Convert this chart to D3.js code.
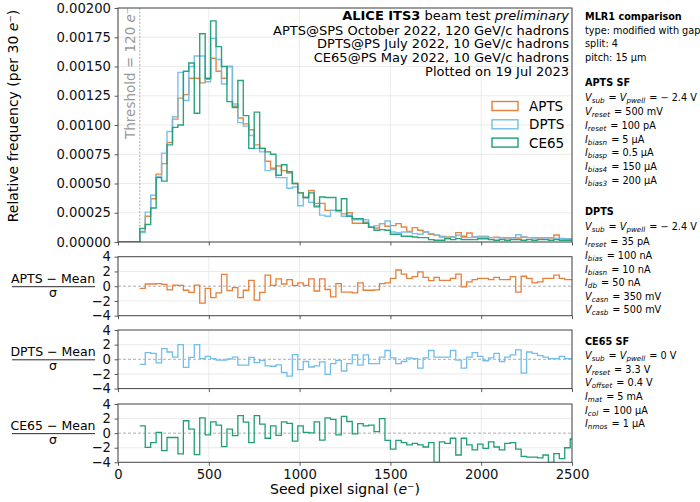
<!DOCTYPE html>
<html>
<head>
<meta charset="utf-8">
<script src="https://cdn.jsdelivr.net/npm/d3@7"></script>
<style>
  body { margin: 0; background: #fff; }
  svg text { font-family: "DejaVu Sans", sans-serif; }
</style>
</head>
<body>
<svg id="chart" width="700" height="502"></svg>
<script>
// histogram bins are 30 e- wide, edges start at 0
const binWidth = 30;
const firstResidualBin = 120;

// relative frequency, in units of 1e-5 (first four bins are below threshold)
const aptsFreq = [0, 0, 0, 0,
  9, 22, 37, 58, 67, 85, 105, 123, 126, 140,
  140, 136, 139, 157, 146, 140, 150, 116, 106, 101,
  96, 83, 80, 69, 63, 65, 61, 59, 50, 42,
  38, 44, 33, 33, 27, 27, 27, 24, 25, 16,
  16, 17, 13, 12, 15.7, 13.4, 14, 15.7, 12.8, 9,
  12.3, 10, 8.6, 6.6, 5.8, 4.3, 4.3, 4.3, 8, 4.9,
  7.7, 4.3, 4.3, 4.3, 3.7, 4, 3.7, 3.4, 3.7, 3.4,
  4.3, 3.7, 3.7, 3.4, 3.7, 3.4, 6, 3.1, 2.8, 2.5];
const dptsFreq = [0, 0, 0, 0,
  8, 25.5, 40, 56, 76, 94.5, 107, 145, 121, 150,
  159, 159, 137, 174, 156, 135, 150, 118, 102, 99,
  91, 80, 77, 61, 62, 55, 55, 46, 47, 31,
  38, 34, 31, 23, 22, 27, 26, 22, 23, 19,
  19, 19, 13, 14, 15.7, 18, 8.6, 8, 8.6, 8.6,
  7.2, 6.6, 8.6, 7.2, 5.8, 4.9, 2.9, 4.3, 5.8, 3.7,
  3.7, 4.3, 5, 5, 3.7, 3.7, 3.4, 3.7, 3.4, 6.2,
  4.3, 3.7, 3.4, 3.7, 3.4, 3.7, 3.1, 2.8, 2.8, 2.5];
const ce65Freq = [0, 0, 0, 0,
  11.5, 15, 29, 55, 52, 83, 98, 100, 146, 153,
  110, 178, 140, 189, 167, 150, 120, 115, 138, 108,
  80, 111, 80, 77, 75, 57, 66, 60, 50, 42,
  38, 42, 30, 38.5, 38, 38, 27, 37, 22, 20,
  20, 16, 12.5, 10, 10.6, 10, 6.6, 6.6, 4.9, 4.9,
  4.3, 3.7, 3.7, 2, 1.5, 1.5, 2.9, 2, 2.9, 2,
  2, 2, 2.8, 2.8, 2, 1.5, 2, 1.5, 2, 2,
  1.5, 2, 1.5, 2, 2, 1.5, 2, 1.5, 1.5, 1.5];

// (X - Mean) / sigma, bins from 120 e-
const aptsRes = [-0.3, 0.3, 0.3, 0.35, 0.25, -0.5, 0.15, 0.1, -0.55, -0.85,
  0.15, -2.3, -0.3, -1.55, -0.9, 1.6, -0.6, -0.2, -1.55, -0.55,
  0.8, -1.9, -0.85, 1.5, 0.1, 1.0, 0.3, 0.9, 0.1, 0.45,
  0.1, 1.0, -0.65, 1.0, -0.45, -1.45, 0.35, -0.8, -0.8, -0.9,
  0.45, -0.55, -0.55, -0.5, 0.35, 0.45, 1.05, 2.2, 1.65, 1.05,
  1.3, 1.95, 1.2, 0.75, 1.2, 0.8, 0.8, 1.05, 1.65, -0.1,
  0.6, 0.9, 1.05, 1.05, 0.9, 1.2, 0.9, 0.9, 1.3, -0.8,
  1.35, 1.05, 0.45, 0.6, 1.05, 1.05, 1.5, 1.05, 0.9, 0.9];
const dptsRes = [-0.7, 0.9, 0.8, -0.5, 1.45, 1.0, 0.3, 2.0, -1.1, 0.25,
  2.0, 0.1, 0.4, 0.1, -0.1, -0.1, 0.05, 0.3, -0.8, -0.8,
  0.25, -0.45, -0.15, -0.9, -0.95, -0.75, -1.8, -2.3, 0.65, -1.4,
  -0.3, -1.05, -0.9, -0.35, -2.05, -0.6, -0.15, -1.6, -0.6, 0.6,
  -0.8, 0.6, -0.6, -0.6, 0.3, 1.2, 0.2, -0.6, -0.3, 0.2,
  0.1, -1.2, 0.2, 1.2, 0.3, 0.3, 0.3, 1.2, -0.1, -1.2,
  0.3, 0.9, 0.4, -0.2, 0.2, 0.8, -0.3, 0.3, 0.6, 1.3,
  -1.9, 1.0, 0.8, 0.5, 0.3, 0.1, 0.1, 0.4, 0.1, 0.1];
const ce65Res = [1.0, -1.95, -1.3, 0.1, -2.4, -0.6, -0.6, -2.85, 1.7, 0.55,
  -2.95, 2.1, -0.25, 1.55, 1.1, -1.85, 0.55, -0.35, 2.4, 1.5,
  -1.3, 2.4, 1.25, -0.7, 1.0, -0.3, 1.55, 1.35, -1.1, 1.0,
  0.1, 0.05, 1.55, -0.95, 2.1, 1.9, -0.25, 2.3, 1.6, -0.1,
  1.3, 1.0, 1.1, 0.2, 2.0, -1.0, -2.2, -1.0, -1.3, -1.6,
  -1.4, -1.6, -1.9, -1.3, -4.0, -1.2, -1.4, -0.7, -3.0, -0.7,
  -1.6, -2.3, -1.5, -2.1, -1.2, -1.9, -2.3, -1.4, -1.3, -2.2,
  -3.2, -3.3, -3.3, -3.4, -3.0, -4.0, -2.8, -3.5, -2.0, -0.8];

const xTicks = [0, 500, 1000, 1500, 2000, 2500];
const yTicksMain = [0, 0.00025, 0.0005, 0.00075, 0.001, 0.00125, 0.0015, 0.00175, 0.002];
const yTicksRes = [-4, -2, 0, 2, 4];

const headerLines = [
  "APTS@SPS October 2022, 120 GeV/c hadrons",
  "DPTS@PS July 2022, 10 GeV/c hadrons",
  "CE65@PS May 2022, 10 GeV/c hadrons",
  "Plotted on 19 Jul 2023"
];
const sideBlocks = [
  { title: "MLR1 comparison", lines: ["type: modified with gap", "split: 4", "pitch: 15 µm"],
    y: [16, 30, 43.5, 57] },
  { title: "APTS SF", lines: ["V_{sub} = V_{pwell} = − 2.4 V", "V_{reset} = 500 mV", "I_{reset} = 100 pA",
      "I_{biasn} = 5 µA", "I_{biasp} = 0.5 µA", "I_{bias4} = 150 µA", "I_{bias3} = 200 µA"],
    y: [82.5, 97, 111.5, 125.5, 139, 152.5, 166, 180] },
  { title: "DPTS", lines: ["V_{sub} = V_{pwell} = − 2.4 V", "I_{reset} = 35 pA", "I_{bias} = 100 nA",
      "I_{biasn} = 10 nA", "I_{db} = 50 nA", "V_{casn} = 350 mV", "V_{casb} = 500 mV"],
    y: [211, 226, 241, 255, 269, 282.5, 296, 309.5] },
  { title: "CE65 SF", lines: ["V_{sub} = V_{pwell} = 0 V", "V_{reset} = 3.3 V", "V_{offset} = 0.4 V",
      "I_{mat} = 5 mA", "I_{col} = 100 µA", "I_{nmos} = 1 µA"],
    y: [341.5, 355.5, 369, 382, 396, 410, 423] }
];

const series = [
  { name: "APTS", color: "#e57f3a", freq: aptsFreq, res: aptsRes },
  { name: "DPTS", color: "#72bde9", freq: dptsFreq, res: dptsRes },
  { name: "CE65", color: "#1f9e78", freq: ce65Freq, res: ce65Res }
];

const svg = d3.select("#chart");
const X0 = 118, X1 = 572;
const x = d3.scaleLinear().domain([0, 2500]).range([X0, X1]);
const yMain = d3.scaleLinear().domain([0, 0.002]).range([242, 8]);

const resPanels = [
  { top: 256.7, bottom: 315.7 },
  { top: 330, bottom: 388.6 },
  { top: 404, bottom: 462.3 }
];

svg.append("defs").selectAll("clipPath")
  .data([{ top: 8, bottom: 242 }].concat(resPanels))
  .enter().append("clipPath")
  .attr("id", (d, i) => "clip" + i)
  .append("rect")
  .attr("x", X0).attr("y", d => d.top)
  .attr("width", X1 - X0).attr("height", d => d.bottom - d.top);

function stepPoints(values, start) {
  const pts = values.map((v, i) => [start + i * binWidth, v]);
  pts.push([start + values.length * binWidth, values[values.length - 1]]);
  return pts;
}

function grid(g, y, yTicks, top, bottom) {
  g.selectAll(".gx").data(xTicks).enter().append("line")
    .attr("x1", d => x(d)).attr("x2", d => x(d))
    .attr("y1", top).attr("y2", bottom)
    .attr("stroke", "#e6e6e6").attr("stroke-width", 0.8);
  g.selectAll(".gy").data(yTicks).enter().append("line")
    .attr("x1", X0).attr("x2", X1)
    .attr("y1", d => y(d)).attr("y2", d => y(d))
    .attr("stroke", "#e6e6e6").attr("stroke-width", 0.8);
}

function axes(g, y, yTicks, yFormat, bottom, showX) {
  const ay = g.append("g").attr("transform", "translate(" + X0 + ",0)")
    .call(d3.axisLeft(y).tickValues(yTicks).tickFormat(yFormat).tickSize(3.5).tickPadding(3.5));
  const ax = g.append("g").attr("transform", "translate(0," + bottom + ")")
    .call(d3.axisBottom(x).tickValues(xTicks)
      .tickFormat(showX ? d3.format("d") : () => "").tickSize(3.5).tickPadding(3.5));
  [ay, ax].forEach(a => {
    a.select(".domain").remove();
    a.selectAll("line").attr("stroke", "#333").attr("stroke-width", 0.8);
    a.selectAll("text").attr("font-size", 13.2).attr("fill", "#111")
      .style("font-family", "DejaVu Sans");
  });
}

function frame(g, top, bottom) {
  g.append("rect").attr("x", X0).attr("y", top)
    .attr("width", X1 - X0).attr("height", bottom - top)
    .attr("fill", "none").attr("stroke", "#444").attr("stroke-width", 1);
}

// ---- main histogram panel
const gMain = svg.append("g");
grid(gMain, yMain, yTicksMain, 8, 242);

gMain.append("line")
  .attr("x1", x(120)).attr("x2", x(120)).attr("y1", 8).attr("y2", 242)
  .attr("stroke", "#aaa").attr("stroke-width", 1).attr("stroke-dasharray", "2,1.5");

gMain.append("text")
  .attr("transform", "translate(" + (x(120) - 5) + ",7) rotate(-90)")
  .attr("text-anchor", "end").attr("font-size", 13.5).attr("fill", "#999")
  .html('Threshold = 120 <tspan font-style="italic">e</tspan>⁻');

const mainLine = d3.line()
  .x(d => x(d[0])).y(d => yMain(d[1] * 1e-5))
  .curve(d3.curveStepAfter);

gMain.append("g").attr("clip-path", "url(#clip0)")
  .selectAll("path").data(series).enter().append("path")
  .attr("d", s => mainLine(stepPoints(s.freq, 0)))
  .attr("fill", "none").attr("stroke", s => s.color)
  .attr("stroke-width", 1.4).attr("stroke-opacity", 0.95);

axes(gMain, yMain, yTicksMain, d3.format(".5f"), 242, false);
frame(gMain, 8, 242);

gMain.append("text")
  .attr("transform", "translate(18,116) rotate(-90)")
  .attr("text-anchor", "middle").attr("font-size", 14)
  .html('Relative frequency (per 30 <tspan font-style="italic">e</tspan>⁻)');

// header text
const header = gMain.append("g").attr("text-anchor", "end").attr("font-size", 13);
header.append("text").attr("x", 569).attr("y", 20)
  .html('<tspan font-weight="bold">ALICE ITS3</tspan> beam test <tspan font-style="italic">preliminary</tspan>');
header.selectAll(".hl").data(headerLines).enter().append("text")
  .attr("x", 569).attr("y", (d, i) => 34.5 + i * 13.9).text(d => d);

// legend
const legend = gMain.append("g");
series.forEach((s, i) => {
  const cy = 106 + i * 18.3;
  legend.append("rect").attr("x", 492).attr("y", cy - 4.5)
    .attr("width", 26).attr("height", 9)
    .attr("fill", "none").attr("stroke", s.color).attr("stroke-width", 1.4);
  legend.append("text").attr("x", 529).attr("y", cy + 5)
    .attr("font-size", 13.5).text(s.name);
});

// ---- residual panels
series.forEach((s, i) => {
  const p = resPanels[i];
  const y = d3.scaleLinear().domain([-4, 4]).range([p.bottom, p.top]);
  const g = svg.append("g");
  grid(g, y, [-2, 2], p.top, p.bottom);
  g.append("line").attr("x1", X0).attr("x2", X1)
    .attr("y1", y(0)).attr("y2", y(0))
    .attr("stroke", "#999").attr("stroke-width", 0.8).attr("stroke-dasharray", "3,2");
  const line = d3.line().x(d => x(d[0])).y(d => y(d[1])).curve(d3.curveStepAfter);
  g.append("path").attr("clip-path", "url(#clip" + (i + 1) + ")")
    .attr("d", line(stepPoints(s.res, firstResidualBin)))
    .attr("fill", "none").attr("stroke", s.color).attr("stroke-width", 1.3);
  axes(g, y, yTicksRes, d3.format("d"), p.bottom, i === 2);
  frame(g, p.top, p.bottom);

  const ym = y(0);
  g.append("text").attr("x", 53).attr("y", ym - 3).attr("text-anchor", "middle")
    .attr("font-size", 12.5).text(s.name + " − Mean");
  g.append("line").attr("x1", 12).attr("x2", 95).attr("y1", ym + 0.5).attr("y2", ym + 0.5)
    .attr("stroke", "#111").attr("stroke-width", 0.9);
  g.append("text").attr("x", 53).attr("y", ym + 11).attr("text-anchor", "middle")
    .attr("font-size", 12.5).text("σ");
});

svg.append("text").attr("x", x(1250)).attr("y", 494).attr("text-anchor", "middle")
  .attr("font-size", 14)
  .html('Seed pixel signal (<tspan font-style="italic">e</tspan>⁻)');

// ---- side annotations
const side = svg.append("g").attr("font-size", 9.7);
function mathText(sel, str) {
  const parts = str.split(/([A-Za-z])_\{([^}]*)\}/);
  for (let k = 0; k < parts.length; k += 3) {
    if (parts[k]) sel.append("tspan").text(parts[k]);
    if (k + 1 < parts.length) {
      sel.append("tspan").attr("font-style", "italic").text(parts[k + 1]);
      sel.append("tspan").attr("font-style", "italic").attr("font-size", 7.2)
        .attr("dy", 2).text(parts[k + 2]);
      sel.append("tspan").attr("dy", -2).text("\u200a");
    }
  }
}
sideBlocks.forEach(b => {
  side.append("text").attr("x", 585).attr("y", b.y[0] + 3.5)
    .attr("font-weight", "bold").text(b.title);
  b.lines.forEach((l, j) => {
    const t = side.append("text").attr("x", 585).attr("y", b.y[j + 1] + 3.5);
    mathText(t, l);
  });
});
</script>
</body>
</html>
